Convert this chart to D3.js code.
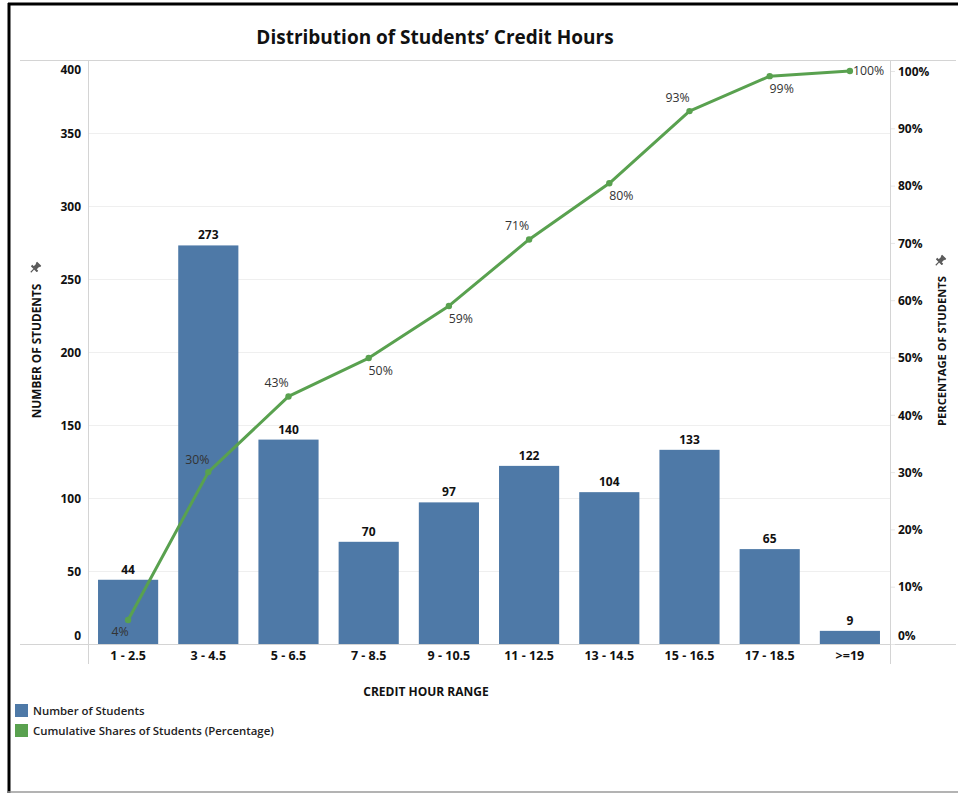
<!DOCTYPE html>
<html><head><meta charset="utf-8">
<script src="https://cdn.jsdelivr.net/npm/d3@7"></script>
<style>
body{margin:0;background:#fff;}
svg{display:block;font-family:"Open Sans","Noto Sans",sans-serif;}
</style></head>
<body><svg id="c" width="958" height="793"></svg>
<script>
const categories = ["1 - 2.5","3 - 4.5","5 - 6.5","7 - 8.5","9 - 10.5","11 - 12.5","13 - 14.5","15 - 16.5","17 - 18.5",">=19"];
const students = [44,273,140,70,97,122,104,133,65,9];
const cumulativePct = [4.2,30.0,43.2,49.9,59.0,70.6,80.4,93.0,99.1,100];
const countTicks = [0,50,100,150,200,250,300,350,400];
const pctTicks = [0,10,20,30,40,50,60,70,80,90,100];
const legendLabels = ["Number of Students","Cumulative Shares of Students (Percentage)"];
const labelPlace = ["bl","al","a","b","b","a","b","a","b","r"];

const blue = "#4e79a7", green = "#59a14f", txt = "#333";
const svg = d3.select("#c");
const L = 88, R = 890, T = 60, B = 644;

const x = d3.scaleBand().domain(categories).range([L, R]).paddingInner(0.25).paddingOuter(0.125);
const y = d3.scaleLinear().domain([0, 400]).range([B, T]);
const y2 = d3.scaleLinear().domain([0, 100]).range([B, 71]);

// frame
svg.append("line").attr("x1",8).attr("x2",958).attr("y1",4).attr("y2",4).attr("stroke","#000").attr("stroke-width",3);
svg.append("line").attr("x1",9).attr("x2",9).attr("y1",3).attr("y2",793).attr("stroke","#000").attr("stroke-width",3);
svg.append("line").attr("x1",8).attr("x2",958).attr("y1",792).attr("y2",792).attr("stroke","#9a9a9a").attr("stroke-width",1.5);

// title
svg.append("text").attr("x",435).attr("y",44).attr("text-anchor","middle")
  .attr("font-size",19).attr("font-weight",700).attr("fill","#111")
  .text("Distribution of Students\u2019 Credit Hours");

// gridlines
svg.append("g").selectAll("line").data(countTicks.filter(d=>d>0 && d<400)).join("line")
  .attr("x1",L).attr("x2",R).attr("y1",d=>Math.round(y(d))+0.5).attr("y2",d=>Math.round(y(d))+0.5)
  .attr("stroke","#efefef").attr("stroke-width",1);

// frame lines of the plot
svg.append("line").attr("x1",20).attr("x2",956).attr("y1",T+0.5).attr("y2",T+0.5).attr("stroke","#d4d4d4");
svg.append("line").attr("x1",20).attr("x2",956).attr("y1",B+0.5).attr("y2",B+0.5).attr("stroke","#d4d4d4");
svg.append("line").attr("x1",L+0.5).attr("x2",L+0.5).attr("y1",T).attr("y2",664).attr("stroke","#d4d4d4");
svg.append("line").attr("x1",R+0.5).attr("x2",R+0.5).attr("y1",T).attr("y2",664).attr("stroke","#d4d4d4");

// left axis
const yAxis = d3.axisLeft(y).tickValues(countTicks).tickSize(0).tickPadding(0);
const gy = svg.append("g").attr("transform",`translate(${81},0)`).call(yAxis);
gy.select(".domain").remove();
gy.selectAll("text").attr("font-size",12).attr("font-weight",700).attr("fill","#111")
  .attr("font-family","'Open Sans',sans-serif")
  .attr("dy",d=> d===400 ? "1.1em" : d===0 ? "-0.4em" : "0.35em");

// right axis
const y2Axis = d3.axisRight(y2).tickValues(pctTicks).tickSize(4).tickPadding(3).tickFormat(d=>d+"%");
const gy2 = svg.append("g").attr("transform",`translate(${R+1},0)`).call(y2Axis);
gy2.select(".domain").remove();
gy2.selectAll("line").attr("stroke","#e6e6e6");
gy2.selectAll("text").attr("font-size",12).attr("font-weight",700).attr("fill","#111")
  .attr("font-family","'Open Sans',sans-serif")
  .attr("dy",d=> d===0 ? "-0.4em" : "0.35em");

// x axis
const xAxis = d3.axisBottom(x).tickSize(0).tickPadding(0);
const gx = svg.append("g").attr("transform",`translate(0,${B})`).call(xAxis);
gx.select(".domain").remove();
gx.selectAll("text").attr("font-size",12.5).attr("font-weight",700).attr("fill","#111")
  .attr("font-family","'Open Sans',sans-serif").attr("dy","1.3em");

// axis titles
svg.append("text").attr("x",426).attr("y",696).attr("text-anchor","middle")
  .attr("font-size",12).attr("font-weight",700).attr("fill","#111").text("CREDIT HOUR RANGE");
svg.append("text").attr("transform","translate(41,351) rotate(-90)").attr("text-anchor","middle")
  .attr("font-size",11.8).attr("font-weight",700).attr("fill","#111").text("NUMBER OF STUDENTS");
svg.append("text").attr("transform","translate(946,351) rotate(-90)").attr("text-anchor","middle")
  .attr("font-size",11.2).attr("font-weight",700).attr("fill","#111").text("PERCENTAGE OF STUDENTS");

// pin icons
function pin(cx, cy){
  const g = svg.append("g").attr("transform",`translate(${cx},${cy}) rotate(45) scale(0.85)`).attr("fill","#5a5a5a");
  g.append("rect").attr("x",-3.5).attr("y",-7).attr("width",7).attr("height",2.5).attr("rx",0.5);
  g.append("rect").attr("x",-2.5).attr("y",-5).attr("width",5).attr("height",5);
  g.append("rect").attr("x",-5).attr("y",-0.5).attr("width",10).attr("height",2.5).attr("rx",0.5);
  g.append("rect").attr("x",-0.7).attr("y",2).attr("width",1.4).attr("height",5);
}
pin(35,268); pin(940,261);

// bars
svg.append("g").selectAll("rect").data(students).join("rect")
  .attr("x",(d,i)=>x(categories[i])).attr("width",x.bandwidth())
  .attr("y",d=>y(d)).attr("height",d=>B-y(d)).attr("fill",blue);

svg.append("g").selectAll("text").data(students).join("text")
  .attr("x",(d,i)=>x(categories[i])+x.bandwidth()/2).attr("y",d=>y(d)-6)
  .attr("text-anchor","middle").attr("font-size",12).attr("font-weight",700).attr("fill","#111")
  .text(d=>d);

// line
const cx = i => x(categories[i]) + x.bandwidth()/2;
const line = d3.line().x((d,i)=>cx(i)).y(d=>y2(d));
svg.append("path").datum(cumulativePct).attr("d",line).attr("fill","none")
  .attr("stroke",green).attr("stroke-width",3).attr("stroke-linejoin","round");
svg.append("g").selectAll("circle").data(cumulativePct).join("circle")
  .attr("cx",(d,i)=>cx(i)).attr("cy",d=>y2(d)).attr("r",3.2).attr("fill",green);

const off = {bl:[-8,16],al:[-11,-8],a:[-12,-9],b:[12,17],r:[3,4]};
svg.append("g").selectAll("text").data(cumulativePct).join("text")
  .attr("x",(d,i)=>cx(i)+off[labelPlace[i]][0]).attr("y",d=>0)
  .attr("transform",(d,i)=>`translate(0,${y2(d)+off[labelPlace[i]][1]})`)
  .attr("text-anchor",(d,i)=>labelPlace[i]==="r"?"start":"middle")
  .attr("font-size",12.3).attr("fill",txt)
  .text(d=>Math.round(d)+"%");

// legend
const lg = svg.append("g");
const legColors = [blue, green];
legendLabels.forEach((t,i)=>{
  lg.append("rect").attr("x",15).attr("y",704+i*20).attr("width",13).attr("height",13).attr("fill",legColors[i]);
  lg.append("text").attr("x",33).attr("y",715+i*20).attr("font-size",11.4).attr("font-weight",600).attr("fill","#222").text(t);
});
</script></body></html>
